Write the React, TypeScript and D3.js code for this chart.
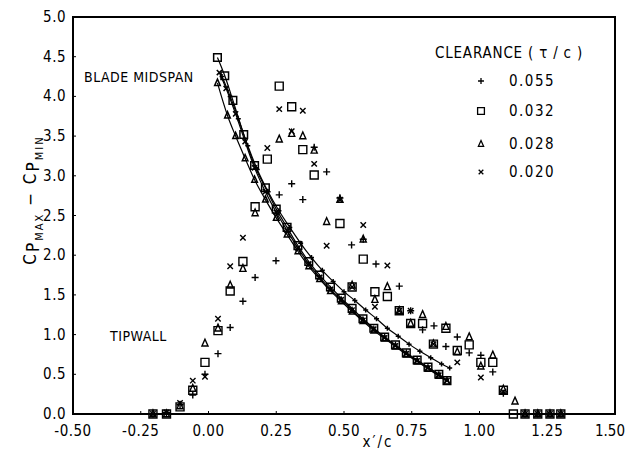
import React from 'react';
import * as d3 from 'd3';

type P = [number, number];

const xTicks = [-0.5, -0.25, 0, 0.25, 0.5, 0.75, 1.0, 1.25, 1.5];
const yTicks = [0, 0.5, 1.0, 1.5, 2.0, 2.5, 3.0, 3.5, 4.0, 4.5, 5.0];
const seriesKeys = ['plus', 'square', 'triangle', 'cross'];
const legendLabels = ['0.055', '0.032', '0.028', '0.020'];

// Blade midspan (lines with markers)
const midPlus: P[] = [[0.05,4.25],[0.08,4.0],[0.11,3.72],[0.145,3.38],[0.18,3.08],[0.22,2.8],[0.26,2.56],[0.3,2.35],[0.34,2.15],[0.38,1.97],[0.42,1.81],[0.46,1.67],[0.5,1.54],[0.54,1.43],[0.58,1.31],[0.62,1.2],[0.66,1.08],[0.7,0.98],[0.74,0.88],[0.78,0.79],[0.82,0.71],[0.86,0.63],[0.89,0.58]];
const midSquare: P[] = [[0.033,4.49],[0.06,4.26],[0.09,3.95],[0.13,3.52],[0.17,3.13],[0.21,2.85],[0.25,2.58],[0.29,2.35],[0.33,2.12],[0.37,1.92],[0.41,1.75],[0.45,1.6],[0.49,1.46],[0.53,1.33],[0.57,1.2],[0.61,1.08],[0.65,0.97],[0.69,0.87],[0.73,0.77],[0.77,0.68],[0.81,0.59],[0.85,0.5],[0.88,0.42]];
const midTriangle: P[] = [[0.033,4.17],[0.07,3.76],[0.1,3.5],[0.135,3.22],[0.17,2.95],[0.21,2.7],[0.25,2.47],[0.29,2.26],[0.33,2.05],[0.37,1.86],[0.41,1.7],[0.45,1.55],[0.49,1.42],[0.53,1.29],[0.57,1.17],[0.61,1.05],[0.65,0.95],[0.69,0.85],[0.73,0.75],[0.77,0.66],[0.81,0.57],[0.85,0.48],[0.88,0.41]];
const midCross: P[] = [[0.04,4.3],[0.065,4.1],[0.1,3.78],[0.135,3.43],[0.17,3.1],[0.21,2.8],[0.25,2.54],[0.29,2.31],[0.33,2.09],[0.37,1.89],[0.41,1.72],[0.45,1.57],[0.49,1.44],[0.53,1.31],[0.57,1.18],[0.61,1.07],[0.65,0.96],[0.69,0.86],[0.73,0.76],[0.77,0.67],[0.81,0.58],[0.85,0.49],[0.88,0.42]];

// Tipwall (scattered markers)
const tipPlus: P[] = [[-0.205,0],[-0.155,0.02],[-0.105,0.12],[-0.058,0.24],[-0.013,0.5],[0.035,0.76],[0.08,1.09],[0.127,1.42],[0.172,1.72],[0.249,1.93],[0.261,2.76],[0.307,2.9],[0.348,2.7],[0.39,3.36],[0.436,3.05],[0.485,2.72],[0.528,2.13],[0.571,2.2],[0.618,1.89],[0.704,1.61],[0.746,1.3],[0.79,1.06],[0.832,1.11],[0.876,0.85],[0.918,0.97],[0.962,0.77],[1.005,0.74],[1.049,0.53],[1.088,0.26],[1.168,0],[1.215,0],[1.26,0],[1.3,0]];
const tipSquare: P[] = [[-0.205,0],[-0.155,0],[-0.105,0.09],[-0.058,0.3],[-0.013,0.65],[0.035,1.05],[0.08,1.55],[0.127,1.92],[0.172,2.61],[0.217,3.21],[0.261,4.13],[0.307,3.87],[0.348,3.33],[0.39,3.01],[0.485,2.4],[0.53,1.6],[0.571,1.95],[0.614,1.54],[0.66,1.48],[0.704,1.3],[0.746,1.14],[0.79,1.14],[0.83,0.88],[0.876,1.08],[0.918,0.8],[0.962,0.87],[1.005,0.65],[1.049,0.65],[1.088,0.3],[1.125,0],[1.168,0],[1.215,0],[1.26,0],[1.3,0]];
const tipTriangle: P[] = [[-0.205,0],[-0.155,0],[-0.105,0.1],[-0.058,0.32],[-0.013,0.89],[0.035,1.08],[0.08,1.62],[0.127,1.83],[0.172,2.53],[0.261,3.46],[0.307,3.53],[0.348,3.5],[0.39,3.32],[0.436,2.42],[0.485,2.7],[0.53,1.62],[0.571,2.2],[0.614,1.44],[0.66,1.6],[0.704,1.3],[0.746,1.14],[0.79,1.25],[0.83,0.88],[0.876,1.1],[0.918,0.78],[0.962,0.97],[1.005,0.6],[1.049,0.74],[1.088,0.31],[1.131,0.16],[1.168,0],[1.215,0],[1.26,0],[1.3,0]];
const tipCross: P[] = [[-0.205,0],[-0.155,0.02],[-0.105,0.14],[-0.058,0.42],[-0.013,0.47],[0.035,1.2],[0.08,1.86],[0.127,2.22],[0.217,3.35],[0.261,3.84],[0.307,3.56],[0.348,3.82],[0.39,3.15],[0.436,2.12],[0.485,2.7],[0.53,1.6],[0.571,2.38],[0.614,1.35],[0.66,1.87],[0.704,1.3],[0.746,1.3],[0.83,0.88],[0.918,0.65],[1.005,0.46],[1.088,0.28],[1.168,0],[1.215,0],[1.26,0],[1.3,0]];

const midData = [midPlus, midSquare, midTriangle, midCross];
const tipData = [tipPlus, tipSquare, tipTriangle, tipCross];

const W = 626, H = 458;
const FONT = "'Liberation Sans Narrow', 'DejaVu Sans Condensed', 'Roboto Condensed', 'Liberation Sans', sans-serif";

function Marker({ type, x, y, s, sw }: { type: string; x: number; y: number; s: number; sw: number }) {
  let d = '';
  if (type === 'plus') d = `M${x - s},${y}H${x + s}M${x},${y - s}V${y + s}`;
  else if (type === 'square') d = `M${x - s},${y - s}H${x + s}V${y + s}H${x - s}Z`;
  else if (type === 'triangle') d = `M${x},${y - s * 1.15}L${x + s * 0.85},${y + s * 0.75}L${x - s * 0.85},${y + s * 0.75}Z`;
  else d = `M${x - s * 0.8},${y - s * 0.8}L${x + s * 0.8},${y + s * 0.8}M${x + s * 0.8},${y - s * 0.8}L${x - s * 0.8},${y + s * 0.8}`;
  return <path d={d} fill="none" stroke="#000" strokeWidth={sw} />;
}

export default function App() {
  const x = d3.scaleLinear().domain([-0.5, 1.5]).range([73, 615]);
  const y = d3.scaleLinear().domain([0, 5]).range([414, 17]);
  const line = d3.line<P>().x(d => x(d[0])).y(d => y(d[1])).curve(d3.curveMonotoneX);
  const tipSize: Record<string, number> = { plus: 3.5, square: 4, triangle: 3.6, cross: 3.4 };
  const midSize: Record<string, number> = { plus: 2.5, square: 3.8, triangle: 3.3, cross: 3.2 };

  return (
    <svg width={W} height={H} style={{ position: 'absolute', left: 0, top: 0, background: '#fff' }}
      fontFamily={FONT}>
      <rect x={0} y={0} width={W} height={H} fill="#fff" />
      {/* frame */}
      <rect x={x(-0.5)} y={y(5)} width={x(1.5) - x(-0.5)} height={y(0) - y(5)} fill="none" stroke="#000" strokeWidth={2} />
      {/* ticks */}
      {xTicks.map((t, i) => {
        const last = i === xTicks.length - 1;
        return (
          <g key={'xt' + i}>
            <line x1={x(t)} x2={x(t)} y1={y(0)} y2={y(0) - 3} stroke="#000" strokeWidth={1} />
            <text x={last ? 625 : x(t)} y={436} textAnchor={last ? 'end' : 'middle'} fontSize={15}
              letterSpacing={last ? 0 : 0.5}>{t.toFixed(2)}</text>
          </g>
        );
      })}
      {yTicks.map((t, i) => (
        <g key={'yt' + i}>
          <line x1={x(-0.5)} x2={x(-0.5) + 3} y1={y(t)} y2={y(t)} stroke="#000" strokeWidth={1} />
          <text x={66} y={y(t) + 5} textAnchor="end" fontSize={15} letterSpacing={0.5}>{t.toFixed(1)}</text>
        </g>
      ))}
      {/* axis titles */}
      <text x={378} y={447} textAnchor="middle" fontSize={15} letterSpacing={2}>x′/c</text>
      <text transform="translate(36,200) rotate(-90)" textAnchor="middle" fontSize={17} letterSpacing={2}>
        C<tspan dy={3}>P</tspan><tspan dy={4} fontSize={11}>MAX</tspan>
        <tspan dy={-7}>{'  −  '}C</tspan><tspan dy={3}>P</tspan><tspan dy={4} fontSize={11}>MIN</tspan>
      </text>
      {/* annotations */}
      <text x={84} y={82} fontSize={14} letterSpacing={0.5}>BLADE MIDSPAN</text>
      <text x={110} y={341} fontSize={14} letterSpacing={0.5}>TIPWALL</text>
      <text x={435} y={58} fontSize={15} letterSpacing={0.8}>CLEARANCE  ( τ / c )</text>
      {legendLabels.map((l, i) => {
        const ly = [81, 111, 144, 172][i];
        return (
          <g key={'lg' + i}>
            <Marker type={seriesKeys[i]} x={481} y={ly} s={tipSize[seriesKeys[i]] * 0.85} sw={1.3} />
            <text x={509} y={ly + 5} fontSize={15} letterSpacing={1.5}>{l}</text>
          </g>
        );
      })}
      {/* midspan lines */}
      {midData.map((d, i) => (
        <g key={'m' + i}>
          <path d={line(d) || ''} fill="none" stroke="#000" strokeWidth={1.2} />
          {d.map((p, j) => (
            <Marker key={j} type={seriesKeys[i]} x={x(p[0])} y={y(p[1])} s={midSize[seriesKeys[i]]} sw={1.5} />
          ))}
        </g>
      ))}
      {/* tipwall points */}
      {tipData.map((d, i) => (
        <g key={'t' + i}>
          {d.map((p, j) => (
            <Marker key={j} type={seriesKeys[i]} x={x(p[0])} y={y(p[1])} s={tipSize[seriesKeys[i]]} sw={1.4} />
          ))}
        </g>
      ))}
    </svg>
  );
}
